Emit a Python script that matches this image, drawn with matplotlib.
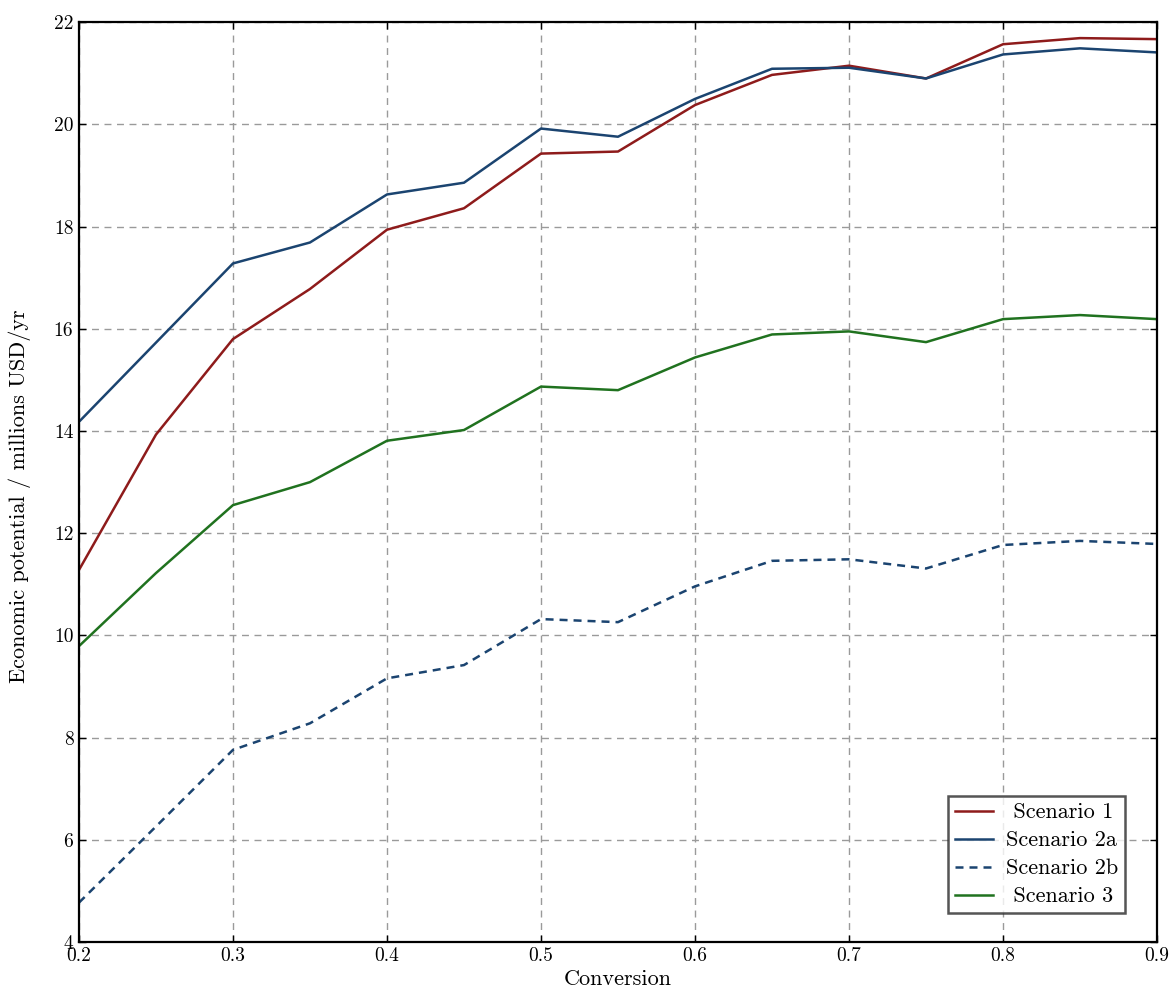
import matplotlib
matplotlib.use("Agg")
import matplotlib.pyplot as plt

# Conversion levels and economic potential (millions USD/yr) per scenario
conversion = [0.20, 0.25, 0.30, 0.35, 0.40, 0.45, 0.50, 0.55,
              0.60, 0.65, 0.70, 0.75, 0.80, 0.85, 0.90]
scenario_1 = [11.28, 13.93, 15.80, 16.78, 17.94, 18.36, 19.43, 19.47,
              20.38, 20.97, 21.15, 20.90, 21.57, 21.69, 21.67]
scenario_2a = [14.18, 15.73, 17.28, 17.69, 18.63, 18.86, 19.92, 19.76,
               20.50, 21.09, 21.11, 20.90, 21.37, 21.49, 21.41]
scenario_2b = [4.77, 6.26, 7.76, 8.28, 9.16, 9.42, 10.32, 10.26,
               10.96, 11.46, 11.49, 11.31, 11.77, 11.85, 11.79]
scenario_3 = [9.79, 11.22, 12.55, 13.00, 13.81, 14.02, 14.87, 14.80,
              15.44, 15.89, 15.95, 15.74, 16.19, 16.27, 16.19]

x_ticks = [0.2, 0.3, 0.4, 0.5, 0.6, 0.7, 0.8, 0.9]
y_ticks = [4, 6, 8, 10, 12, 14, 16, 18, 20, 22]

plt.rcParams["font.family"] = "serif"
plt.rcParams["font.serif"] = ["cmr10", "DejaVu Serif"]
plt.rcParams["mathtext.fontset"] = "cm"
plt.rcParams["axes.formatter.use_mathtext"] = True

fig = plt.figure(figsize=(11.73, 9.94), dpi=100)
ax = fig.add_axes([0.0673, 0.0523, 0.9191, 0.9253])

red = "#8e1b1b"
blue = "#1b4470"
green = "#20721f"

ax.plot(conversion, scenario_1, color=red, lw=1.8, label=" Scenario 1")
ax.plot(conversion, scenario_2a, color=blue, lw=1.8, label="Scenario 2a")
ax.plot(conversion, scenario_2b, color=blue, lw=1.8, ls=(0, (3.2, 2.4)),
        label="Scenario 2b")
ax.plot(conversion, scenario_3, color=green, lw=1.8, label=" Scenario 3")

ax.set_xlim(0.2, 0.9)
ax.set_ylim(4, 22)
ax.set_xticks(x_ticks)
ax.set_yticks(y_ticks)
ax.set_xticklabels([f"{t:.1f}" for t in x_ticks])
ax.set_yticklabels([str(t) for t in y_ticks])

ax.grid(True, color="#9a9a9a", ls=(0, (5, 4)), lw=1.0)
ax.tick_params(direction="in", top=True, right=True, length=5, width=1,
               labelsize=14, pad=4)
for side in ax.spines.values():
    side.set_linewidth(1.6)

ax.set_xlabel("Conversion", fontsize=16, labelpad=3)
ax.set_ylabel("Economic potential / millions USD/yr", fontsize=16)
ax.yaxis.set_label_coords(-0.0445, 0.485)

leg = ax.legend(loc="lower right", bbox_to_anchor=(0.970, 0.0315),
                borderaxespad=0.0, fontsize=16, frameon=True, fancybox=False,
                handlelength=1.7, borderpad=0.3, labelspacing=0.38,
                handletextpad=0.6)
leg.get_frame().set_edgecolor("#2a2a2a")
leg.get_frame().set_linewidth(1.8)

fig.savefig("out.png", dpi=100)
